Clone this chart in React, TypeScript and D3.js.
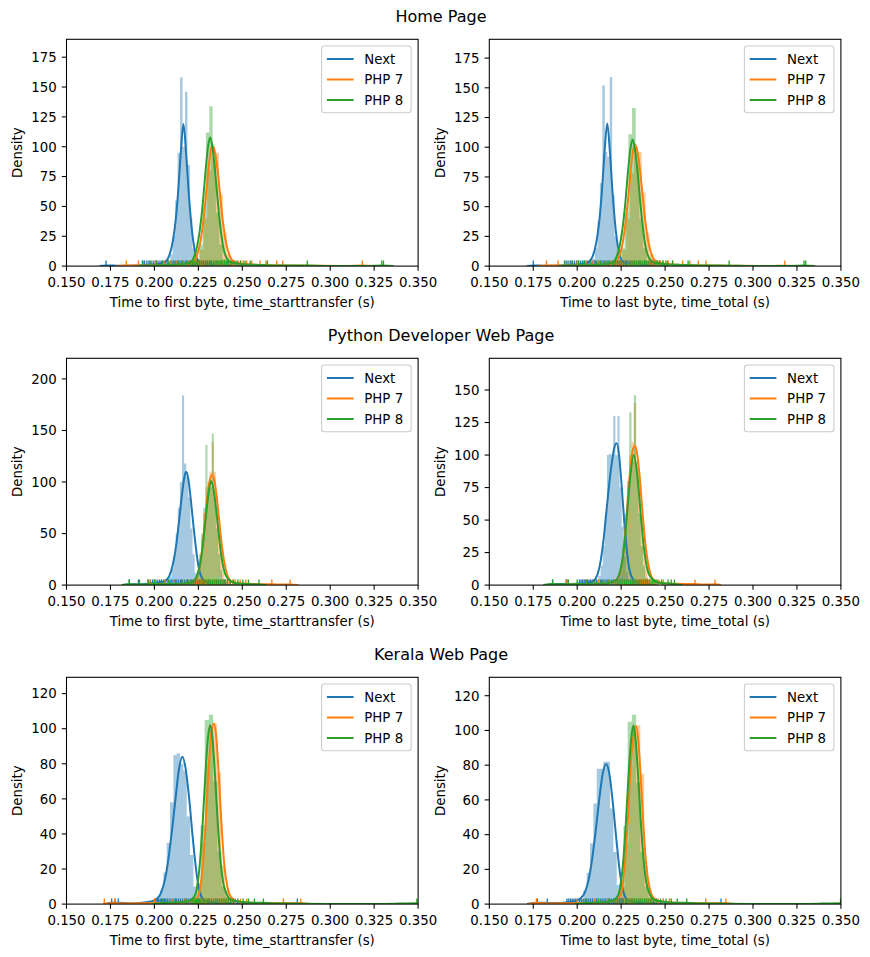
import React from "react";
import * as d3 from "d3";

// ---------- shared labels ----------
const seriesNames = ["Next", "PHP 7", "PHP 8"];
const seriesColors = ["#1f77b4", "#ff7f0e", "#2ca02c"];
const rowTitles = ["Home Page", "Python Developer Web Page", "Kerala Web Page"];
const xLabels = ["Time to first byte, time_starttransfer (s)", "Time to last byte, time_total (s)"];
const xTicks = [0.15, 0.175, 0.2, 0.225, 0.25, 0.275, 0.3, 0.325, 0.35];
const yTicksHome = [0, 25, 50, 75, 100, 125, 150, 175];
const yTicksPyFirst = [0, 50, 100, 150, 200];
const yTicksPyLast = [0, 25, 50, 75, 100, 125, 150];
const yTicksKerala = [0, 20, 40, 60, 80, 100, 120];
const yMaxes = [190, 190.8, 220, 174.4, 129.3, 130.6];

// ---------- Home page, time to first byte ----------
const hfNextHist = { start: 0.2048, width: 0.0014, density: [1, 2, 3, 10, 25, 55, 95, 158, 100, 146, 85, 40, 15, 5, 2, 1] };
const hfPhp7Hist = { start: 0.2191, width: 0.0022, density: [1, 2, 5, 14, 40, 80, 98, 95, 60, 28, 10, 3, 1] };
const hfPhp8Hist = { start: 0.2198, width: 0.0019, density: [1, 2, 6, 18, 50, 112, 134, 90, 45, 18, 6, 2] };
const hfNextKde = [[0.1688,0],[0.1725,0.6],[0.18,0.3],[0.19,0.6],[0.197,1.2],[0.203,2],[0.2065,4],[0.2085,9],[0.2105,21],[0.212,37],[0.2135,62],[0.215,95],[0.2165,119],[0.218,95],[0.2195,62],[0.221,35],[0.2225,17],[0.224,7],[0.2265,2.5],[0.232,1.5],[0.242,0.7],[0.2505,0]];
const hfPhp7Kde = [[0.1785,0],[0.184,0.6],[0.191,0.6],[0.2,0.5],[0.21,0.8],[0.217,1.3],[0.2215,3],[0.224,8],[0.226,19],[0.228,40],[0.2295,62],[0.231,85],[0.2322,98],[0.2332,101],[0.2345,95],[0.236,80],[0.2375,58],[0.239,37],[0.241,18],[0.243,8],[0.2455,3.5],[0.25,2],[0.256,1.2],[0.265,0.8],[0.275,0.5],[0.29,0.2],[0.31,0.1],[0.318,0.4],[0.324,0]];
const hfPhp8Kde = [[0.1905,0],[0.2,0.6],[0.21,1],[0.216,1.5],[0.2205,3],[0.2225,7.5],[0.2245,18],[0.226,32],[0.2275,52],[0.229,78],[0.2305,100],[0.2317,108],[0.233,100],[0.2345,80],[0.236,55],[0.2375,33],[0.239,17],[0.241,7],[0.244,2.8],[0.25,1.6],[0.26,1],[0.27,0.6],[0.287,0.4],[0.3,0.1],[0.32,0.1],[0.33,0.5],[0.336,0]];
const hfNextRug = [0.1725,0.1932,0.1944,0.1957,0.1969,0.1981,0.1993,0.2005,0.2014,0.2026,0.2038,0.2049,0.2061,0.2072,0.2083,0.2095,0.2106,0.2118,0.2129,0.214,0.2152,0.2163,0.2175,0.2186,0.2198,0.2209,0.2221,0.2232,0.2244,0.2258,0.2275,0.2295,0.232,0.235,0.238,0.2415,0.245];
const hfPhp7Rug = [0.184,0.1909,0.2005,0.2055,0.2095,0.213,0.2165,0.2195,0.2215,0.2228,0.224,0.2252,0.2264,0.2276,0.2288,0.23,0.2312,0.2324,0.2336,0.2348,0.236,0.2372,0.2384,0.2396,0.2408,0.242,0.2433,0.2447,0.246,0.2475,0.249,0.2505,0.2525,0.2554,0.2601,0.2635,0.2696,0.273,0.3183];
const hfPhp8Rug = [0.1935,0.1975,0.2012,0.2045,0.2078,0.211,0.2135,0.216,0.2185,0.2205,0.2218,0.223,0.2242,0.2254,0.2266,0.2278,0.229,0.2302,0.2314,0.2326,0.2338,0.235,0.2362,0.2374,0.2386,0.2398,0.241,0.2423,0.2437,0.2452,0.247,0.249,0.2515,0.2545,0.2643,0.287,0.3293,0.3303];

// ---------- Home page, time to last byte ----------
const hlNextHist = { start: 0.2045, width: 0.0014, density: [1, 2, 3, 6, 15, 38, 70, 152, 96, 92, 159, 60, 25, 10, 4, 2, 1] };
const hlPhp7Hist = { start: 0.2191, width: 0.0022, density: [1, 2, 5, 14, 40, 78, 100, 96, 62, 28, 10, 3, 1] };
const hlPhp8Hist = { start: 0.2186, width: 0.0021, density: [1, 2, 5, 15, 45, 111, 133, 85, 40, 15, 5, 2] };
const hlNextKde = [[0.1713,0],[0.175,0.6],[0.182,0.3],[0.19,0.5],[0.1975,1.2],[0.2035,2],[0.207,4],[0.209,9],[0.211,21],[0.2125,37],[0.214,62],[0.2155,95],[0.2171,120],[0.2186,96],[0.2201,62],[0.2216,35],[0.2231,17],[0.2246,7],[0.227,2.5],[0.233,1.5],[0.243,0.7],[0.2515,0]];
const hlPhp7Kde = [[0.1775,0],[0.1825,0.6],[0.189,0.6],[0.2,0.5],[0.21,0.8],[0.217,1.3],[0.2213,3],[0.2238,8],[0.2258,19],[0.2278,40],[0.2293,62],[0.2308,86],[0.232,99],[0.233,102],[0.2343,96],[0.2358,80],[0.2373,58],[0.2388,37],[0.2408,18],[0.2428,8],[0.2453,3.5],[0.25,2],[0.255,1.3],[0.264,0.8],[0.274,0.5],[0.29,0.2],[0.31,0.1],[0.318,0.4],[0.3235,0]];
const hlPhp8Kde = [[0.1895,0],[0.2,0.6],[0.21,1],[0.216,1.5],[0.2203,3],[0.2223,7.5],[0.2243,18],[0.2258,32],[0.2273,52],[0.2288,78],[0.2303,99],[0.2315,106.6],[0.2328,99],[0.2343,80],[0.2358,55],[0.2373,33],[0.2388,17],[0.2408,7],[0.2438,2.8],[0.25,1.6],[0.26,1],[0.27,0.6],[0.286,0.4],[0.3,0.1],[0.32,0.1],[0.329,0.5],[0.3352,0]];
const hlNextRug = [0.175,0.1937,0.1948,0.196,0.1972,0.1984,0.1996,0.2008,0.202,0.2031,0.2043,0.2055,0.2066,0.2078,0.2089,0.2101,0.2112,0.2124,0.2135,0.2147,0.2158,0.217,0.2181,0.2193,0.2204,0.2216,0.2227,0.2239,0.225,0.2264,0.228,0.23,0.2325,0.2355,0.2385,0.242,0.2455];
const hlPhp7Rug = [0.1825,0.1891,0.2,0.205,0.209,0.2125,0.216,0.2192,0.2213,0.2226,0.2238,0.225,0.2262,0.2274,0.2286,0.2298,0.231,0.2322,0.2334,0.2346,0.2358,0.237,0.2382,0.2394,0.2406,0.2418,0.2431,0.2445,0.2458,0.2473,0.2488,0.2503,0.2518,0.2543,0.26,0.2641,0.2689,0.2732,0.3181];
const hlPhp8Rug = [0.1928,0.197,0.2008,0.204,0.2074,0.2106,0.2132,0.2158,0.2182,0.2203,0.2216,0.2228,0.224,0.2252,0.2264,0.2276,0.2288,0.23,0.2312,0.2324,0.2336,0.2348,0.236,0.2372,0.2384,0.2396,0.2408,0.2421,0.2435,0.245,0.2468,0.2488,0.2512,0.2542,0.2631,0.2864,0.329,0.33];

// ---------- Python developer page, time to first byte ----------
const pfNextHist = { start: 0.2061, width: 0.0012, density: [2, 4, 8, 16, 30, 50, 75, 100, 184, 118, 105, 85, 55, 30, 12, 5, 2] };
const pfPhp7Hist = { start: 0.2218, width: 0.0012, density: [2, 5, 12, 25, 45, 70, 95, 100, 110, 139, 110, 86, 55, 30, 12, 4, 1] };
const pfPhp8Hist = { start: 0.2218, width: 0.0012, density: [3, 7, 15, 30, 50, 75, 136, 90, 95, 147, 85, 55, 30, 15, 6, 3, 1] };
const pfNextKde = [[0.1825,0],[0.1857,0.8],[0.191,0.8],[0.197,1.5],[0.202,2.5],[0.206,4],[0.2085,9],[0.2105,20],[0.2125,40],[0.214,62],[0.2155,85],[0.217,104],[0.218,110],[0.2192,104],[0.2207,83],[0.2222,58],[0.2237,35],[0.2252,17],[0.227,7],[0.2295,3],[0.233,1.5],[0.24,0.6],[0.2475,0]];
const pfPhp7Kde = [[0.1945,0],[0.198,0.8],[0.205,0.8],[0.212,1],[0.218,1.5],[0.222,3],[0.2245,9],[0.2262,22],[0.2278,45],[0.2293,72],[0.2308,95],[0.232,105],[0.233,107],[0.2342,101],[0.2357,82],[0.2372,57],[0.2387,34],[0.2405,16],[0.2425,6],[0.245,2.5],[0.25,1.5],[0.257,1],[0.265,0.8],[0.2668,0.8],[0.272,0.5],[0.2772,0.6],[0.2819,0]];
const pfPhp8Kde = [[0.1814,0],[0.1857,0.8],[0.192,0.6],[0.2,0.8],[0.21,1],[0.217,1.5],[0.2215,3],[0.224,8],[0.226,20],[0.2275,38],[0.229,62],[0.2305,85],[0.2322,101],[0.2337,92],[0.2352,72],[0.2367,48],[0.2382,27],[0.24,12],[0.2425,5],[0.246,2],[0.2503,1.2],[0.2535,1],[0.2595,0.7],[0.2635,0]];
const pfNextRug = [0.1857,0.1909,0.1965,0.1978,0.199,0.2003,0.2015,0.2028,0.204,0.2053,0.2065,0.2078,0.2089,0.21,0.2112,0.2124,0.2136,0.2148,0.216,0.2172,0.2184,0.2196,0.2208,0.222,0.2232,0.2245,0.226,0.228,0.231,0.235,0.24];
const pfPhp7Rug = [0.1965,0.1975,0.2005,0.206,0.211,0.2155,0.219,0.2212,0.2225,0.2238,0.225,0.2262,0.2274,0.2286,0.2298,0.231,0.2322,0.2334,0.2346,0.2358,0.237,0.2382,0.2394,0.2406,0.2418,0.2432,0.2446,0.246,0.2488,0.252,0.2668,0.2772];
const pfPhp8Rug = [0.1857,0.1915,0.1965,0.2,0.204,0.208,0.212,0.2155,0.219,0.221,0.2222,0.2234,0.2246,0.2258,0.227,0.2282,0.2294,0.2306,0.2318,0.233,0.2342,0.2354,0.2366,0.2378,0.239,0.2402,0.2415,0.243,0.245,0.2475,0.2503,0.2535,0.2595];

// ---------- Python developer page, time to last byte ----------
const plNextHist = { start: 0.2097, width: 0.0012, density: [2, 4, 7, 15, 30, 55, 100, 101, 100, 130, 100, 130, 75, 45, 22, 10, 4, 2] };
const plPhp7Hist = { start: 0.2218, width: 0.0013, density: [2, 5, 12, 25, 45, 75, 100, 110, 140, 95, 86, 50, 28, 12, 5, 2] };
const plPhp8Hist = { start: 0.2218, width: 0.0013, density: [3, 7, 15, 30, 55, 80, 133, 95, 146, 85, 55, 30, 15, 6, 3, 1] };
const plNextKde = [[0.1825,0],[0.186,0.8],[0.1937,0.8],[0.2,1],[0.205,1.5],[0.209,3],[0.2115,8],[0.2135,20],[0.215,35],[0.2165,55],[0.218,75],[0.2195,92],[0.221,105],[0.2224,109],[0.2238,100],[0.2252,78],[0.2267,50],[0.2282,27],[0.2297,12],[0.2315,5],[0.234,2],[0.238,1],[0.2445,0]];
const plPhp7Kde = [[0.1925,0],[0.196,0.7],[0.205,0.8],[0.212,1],[0.218,1.5],[0.2215,3],[0.2243,9],[0.226,22],[0.2276,45],[0.2291,72],[0.2306,95],[0.2318,105],[0.2329,107],[0.2341,101],[0.2356,82],[0.2371,57],[0.2386,34],[0.2404,16],[0.2424,6],[0.245,2.5],[0.25,1.5],[0.257,1],[0.2665,0.8],[0.272,0.5],[0.2784,0.6],[0.2818,0]];
const plPhp8Kde = [[0.1807,0],[0.186,0.8],[0.192,0.6],[0.2,0.8],[0.21,1],[0.217,1.5],[0.2213,3],[0.2238,8],[0.2258,20],[0.2273,38],[0.2288,62],[0.2303,85],[0.2321,100],[0.2336,91],[0.2351,71],[0.2366,47],[0.2381,27],[0.2399,12],[0.2424,5],[0.2458,2],[0.2517,1.2],[0.2553,0.9],[0.26,0]];
const plNextRug = [0.186,0.1937,0.1942,0.2013,0.2022,0.2031,0.204,0.2049,0.2058,0.2067,0.2076,0.2087,0.2098,0.211,0.2122,0.2134,0.2146,0.2158,0.217,0.2182,0.2194,0.2206,0.2218,0.223,0.2242,0.2254,0.2266,0.2278,0.229,0.2305,0.232,0.236,0.24];
const plPhp7Rug = [0.1937,0.1942,0.205,0.212,0.218,0.2215,0.2228,0.224,0.2252,0.2264,0.2276,0.2288,0.23,0.2312,0.2324,0.2336,0.2348,0.236,0.2372,0.2384,0.2396,0.2408,0.242,0.2434,0.2448,0.2465,0.249,0.267,0.2784];
const plPhp8Rug = [0.186,0.195,0.2,0.205,0.21,0.214,0.2175,0.2205,0.222,0.2232,0.2244,0.2256,0.2268,0.228,0.2292,0.2304,0.2316,0.2328,0.234,0.2352,0.2364,0.2376,0.2388,0.24,0.2413,0.2427,0.2442,0.2455,0.248,0.2517,0.2535,0.2553];

// ---------- Kerala page, time to first byte ----------
const kfNextHist = { start: 0.2013, width: 0.0019, density: [3, 8, 18, 35, 58, 85, 86, 80, 76, 50, 28, 10, 3, 1] };
const kfPhp7Hist = { start: 0.2203, width: 0.0022, density: [1, 3, 10, 35, 80, 100, 103, 75, 22, 8, 3, 1] };
const kfPhp8Hist = { start: 0.219, width: 0.0024, density: [1, 3, 12, 45, 105, 108, 70, 30, 10, 4, 2] };
const kfNextKde = [[0.172,0],[0.1757,0.8],[0.1795,0.8],[0.186,0.4],[0.193,0.8],[0.198,1.5],[0.2015,3],[0.204,7],[0.206,14],[0.208,26],[0.21,42],[0.212,60],[0.214,77],[0.2159,84],[0.2178,77],[0.2198,60],[0.2218,38],[0.2238,19],[0.2258,7],[0.228,2.5],[0.232,1],[0.24,0.5],[0.26,0.2],[0.2813,0.4],[0.2855,0]];
const kfPhp7Kde = [[0.1709,0],[0.175,0.5],[0.185,0.4],[0.195,0.5],[0.205,0.6],[0.213,0.8],[0.22,1.5],[0.2245,4],[0.2265,12],[0.228,28],[0.2295,52],[0.231,80],[0.2325,98],[0.2339,103],[0.2352,95],[0.2367,72],[0.2382,45],[0.2397,23],[0.2415,10],[0.2435,4],[0.246,2],[0.25,1.2],[0.26,0.6],[0.2734,0.5],[0.2833,0.5],[0.289,0]];
const kfPhp8Kde = [[0.1985,0],[0.205,0.6],[0.213,1],[0.219,1.5],[0.2225,4],[0.2245,11],[0.226,25],[0.2275,47],[0.229,74],[0.2305,95],[0.2317,102],[0.233,95],[0.2345,73],[0.236,47],[0.2375,26],[0.239,13],[0.241,6],[0.2435,2.5],[0.248,1.5],[0.2569,0.8],[0.262,0.8],[0.27,0.3],[0.3,0.1],[0.33,0.1],[0.3493,0.5],[0.356,0]];
const kfNextRug = [0.1757,0.1776,0.1795,0.2008,0.2016,0.2024,0.2033,0.2041,0.205,0.2058,0.2066,0.2076,0.2088,0.21,0.2112,0.2124,0.2136,0.2148,0.216,0.2172,0.2184,0.2196,0.2208,0.222,0.2232,0.2244,0.2258,0.228,0.231,0.235,0.2813];
const kfPhp7Rug = [0.1715,0.1775,0.2,0.21,0.2175,0.2215,0.2228,0.224,0.2252,0.2264,0.2276,0.2288,0.23,0.2312,0.2324,0.2336,0.2348,0.236,0.2372,0.2384,0.2396,0.2408,0.242,0.2434,0.2448,0.246,0.249,0.2525,0.2734,0.2833];
const kfPhp8Rug = [0.205,0.212,0.218,0.2215,0.2228,0.224,0.2252,0.2264,0.2276,0.2288,0.23,0.2312,0.2324,0.2336,0.2348,0.236,0.2372,0.2384,0.2396,0.2408,0.242,0.2433,0.245,0.2475,0.2505,0.2535,0.2569,0.262,0.3493];

// ---------- Kerala page, time to last byte ----------
const klNextHist = { start: 0.2016, width: 0.0019, density: [3, 8, 18, 35, 58, 78, 78, 82, 82, 55, 30, 11, 4, 1] };
const klPhp7Hist = { start: 0.2205, width: 0.0022, density: [1, 3, 10, 35, 80, 100, 103, 75, 22, 8, 3, 1] };
const klPhp8Hist = { start: 0.2191, width: 0.0024, density: [1, 3, 12, 45, 105, 109, 70, 30, 10, 4, 2] };
const klNextKde = [[0.1715,0],[0.1773,0.8],[0.183,0.7],[0.189,0.6],[0.194,1],[0.198,1.5],[0.2015,3],[0.2045,7],[0.2065,14],[0.2085,26],[0.2105,42],[0.2125,60],[0.2145,75],[0.2164,80.7],[0.2183,75],[0.2203,58],[0.2223,37],[0.2243,18],[0.2263,7],[0.2285,2.5],[0.233,1],[0.245,0.5],[0.265,0.2],[0.2818,0.4],[0.286,0]];
const klPhp7Kde = [[0.1722,0],[0.1768,0.6],[0.185,0.4],[0.195,0.5],[0.205,0.6],[0.213,0.8],[0.2195,1.5],[0.224,4],[0.226,12],[0.2275,28],[0.229,52],[0.2305,80],[0.232,97],[0.2334,102.5],[0.2347,95],[0.2362,72],[0.2377,45],[0.2392,23],[0.241,10],[0.243,4],[0.2455,2],[0.25,1.2],[0.26,0.6],[0.2731,0.5],[0.2846,0.5],[0.29,0]];
const klPhp8Kde = [[0.1985,0],[0.205,0.6],[0.213,1],[0.219,1.5],[0.2227,4],[0.2247,11],[0.2262,25],[0.2277,47],[0.2292,74],[0.2307,95],[0.2319,103],[0.2332,95],[0.2347,73],[0.2362,47],[0.2377,26],[0.2392,13],[0.2412,6],[0.2437,2.5],[0.248,1.5],[0.2569,0.8],[0.2623,0.8],[0.27,0.3],[0.3,0.1],[0.33,0.1],[0.35,0.5],[0.357,0]];
const klNextRug = [0.1773,0.183,0.1942,0.1952,0.1962,0.1972,0.1982,0.1992,0.2002,0.2014,0.2026,0.2038,0.205,0.2062,0.2074,0.2086,0.2098,0.211,0.2122,0.2134,0.2146,0.2158,0.217,0.2182,0.2194,0.2206,0.2218,0.223,0.2244,0.226,0.228,0.231,0.235,0.2818];
const klPhp7Rug = [0.1768,0.2,0.21,0.2175,0.2215,0.2228,0.224,0.2252,0.2264,0.2276,0.2288,0.23,0.2312,0.2324,0.2336,0.2348,0.236,0.2372,0.2384,0.2396,0.2408,0.242,0.2434,0.2448,0.246,0.249,0.2525,0.2731,0.2846];
const klPhp8Rug = [0.205,0.212,0.218,0.2215,0.2228,0.224,0.2252,0.2264,0.2276,0.2288,0.23,0.2312,0.2324,0.2336,0.2348,0.236,0.2372,0.2384,0.2396,0.2408,0.242,0.2433,0.245,0.2475,0.2505,0.2535,0.2569,0.2623,0.3498];

// ---------- panel assembly ----------
const panels = [
  { row: 0, col: 0, yMax: yMaxes[0], yTicks: yTicksHome, hists: [hfNextHist, hfPhp7Hist, hfPhp8Hist], kdes: [hfNextKde, hfPhp7Kde, hfPhp8Kde], rugs: [hfNextRug, hfPhp7Rug, hfPhp8Rug] },
  { row: 0, col: 1, yMax: yMaxes[1], yTicks: yTicksHome, hists: [hlNextHist, hlPhp7Hist, hlPhp8Hist], kdes: [hlNextKde, hlPhp7Kde, hlPhp8Kde], rugs: [hlNextRug, hlPhp7Rug, hlPhp8Rug] },
  { row: 1, col: 0, yMax: yMaxes[2], yTicks: yTicksPyFirst, hists: [pfNextHist, pfPhp7Hist, pfPhp8Hist], kdes: [pfNextKde, pfPhp7Kde, pfPhp8Kde], rugs: [pfNextRug, pfPhp7Rug, pfPhp8Rug] },
  { row: 1, col: 1, yMax: yMaxes[3], yTicks: yTicksPyLast, hists: [plNextHist, plPhp7Hist, plPhp8Hist], kdes: [plNextKde, plPhp7Kde, plPhp8Kde], rugs: [plNextRug, plPhp7Rug, plPhp8Rug] },
  { row: 2, col: 0, yMax: yMaxes[4], yTicks: yTicksKerala, hists: [kfNextHist, kfPhp7Hist, kfPhp8Hist], kdes: [kfNextKde, kfPhp7Kde, kfPhp8Kde], rugs: [kfNextRug, kfPhp7Rug, kfPhp8Rug] },
  { row: 2, col: 1, yMax: yMaxes[5], yTicks: yTicksKerala, hists: [klNextHist, klPhp7Hist, klPhp8Hist], kdes: [klNextKde, klPhp7Kde, klPhp8Kde], rugs: [klNextRug, klPhp7Rug, klPhp8Rug] },
];

// ---------- layout ----------
const W = 870;
const H = 957;
const AX_LEFT = [66.5, 489.3];
const AX_W = 351.6;
const AX_TOP = [39.3, 358.3, 677.3];
const AX_H = 226.8;
const FONT = "'DejaVu Sans', 'Liberation Sans', sans-serif";
const FS = 13.33;

function Panel({ p, idx }: { p: any; idx: number }) {
  const x0 = AX_LEFT[p.col];
  const y0 = AX_TOP[p.row];
  const xs = d3.scaleLinear().domain([0.15, 0.35]).range([x0, x0 + AX_W]);
  const ys = d3.scaleLinear().domain([0, p.yMax]).range([y0 + AX_H, y0]);
  const clipId = `clip-${idx}`;

  const histArea = d3
    .area<[number, number]>()
    .x((d) => xs(d[0]))
    .y0(ys(0))
    .y1((d) => ys(d[1]))
    .curve(d3.curveStepAfter);

  const kdeLine = d3
    .line<number[]>()
    .x((d) => xs(d[0]))
    .y((d) => ys(d[1]))
    .curve(d3.curveMonotoneX);

  const histPoints = (h: any): [number, number][] => {
    const pts: [number, number][] = h.density.map((v: number, i: number) => [h.start + i * h.width, v]);
    const n = h.density.length;
    pts.push([h.start + n * h.width, h.density[n - 1]]);
    return pts;
  };

  const rugH = AX_H * 0.025;
  const legendW = 89.5;
  const legendH = 66.7;
  const lx = x0 + AX_W - 7 - legendW;
  const ly = y0 + 6.7;

  return (
    <g>
      <defs>
        <clipPath id={clipId}>
          <rect x={x0} y={y0} width={AX_W} height={AX_H} />
        </clipPath>
      </defs>
      <g clipPath={`url(#${clipId})`}>
        {p.hists.map((h: any, i: number) => (
          <path key={`h${i}`} d={histArea(histPoints(h)) || ""} fill={seriesColors[i]} fillOpacity={0.4} stroke="none" />
        ))}
        {p.kdes.map((k: number[][], i: number) => (
          <g key={`k${i}`}>
            <path d={kdeLine(k) || ""} fill="none" stroke={seriesColors[i]} strokeWidth={2} strokeLinejoin="round" />
            {p.rugs[i].map((r: number, j: number) => (
              <line key={j} x1={xs(r)} x2={xs(r)} y1={y0 + AX_H} y2={y0 + AX_H - rugH} stroke={seriesColors[i]} strokeWidth={1.33} />
            ))}
          </g>
        ))}
      </g>
      {/* spines */}
      <rect x={x0} y={y0} width={AX_W} height={AX_H} fill="none" stroke="#000" strokeWidth={1.07} />
      {/* x ticks */}
      {xTicks.map((t) => (
        <g key={`xt${t}`}>
          <line x1={xs(t)} x2={xs(t)} y1={y0 + AX_H} y2={y0 + AX_H + 4.67} stroke="#000" strokeWidth={1.07} />
          <text x={xs(t)} y={y0 + AX_H + 21} textAnchor="middle" fontSize={FS} fontFamily={FONT} fill="#000">
            {d3.format(".3f")(t)}
          </text>
        </g>
      ))}
      {/* y ticks */}
      {p.yTicks.map((t: number) => (
        <g key={`yt${t}`}>
          <line x1={x0} x2={x0 - 4.67} y1={ys(t)} y2={ys(t)} stroke="#000" strokeWidth={1.07} />
          <text x={x0 - 9.8} y={ys(t) + 4.8} textAnchor="end" fontSize={FS} fontFamily={FONT} fill="#000">
            {t}
          </text>
        </g>
      ))}
      {/* axis labels */}
      <text x={x0 + AX_W / 2} y={y0 + AX_H + 40.6} textAnchor="middle" fontSize={FS} fontFamily={FONT} fill="#000">
        {xLabels[p.col]}
      </text>
      <text
        transform={`translate(${x0 - 44.5},${y0 + AX_H / 2}) rotate(-90)`}
        textAnchor="middle"
        fontSize={FS}
        fontFamily={FONT}
        fill="#000"
      >
        Density
      </text>
      {/* legend */}
      <rect x={lx} y={ly} width={legendW} height={legendH} rx={2.7} fill="#fff" fillOpacity={0.8} stroke="#cccccc" strokeWidth={1.07} />
      {seriesNames.map((s, i) => {
        const cy = ly + 13 + i * 20.5;
        return (
          <g key={`lg${i}`}>
            <line x1={lx + 5.3} x2={lx + 32} y1={cy} y2={cy} stroke={seriesColors[i]} strokeWidth={2} />
            <text x={lx + 42.7} y={cy + 4.8} fontSize={FS} fontFamily={FONT} fill="#000">
              {s}
            </text>
          </g>
        );
      })}
    </g>
  );
}

export default function App() {
  return (
    <svg
      width={W}
      height={H}
      viewBox={`0 0 ${W} ${H}`}
      style={{ position: "absolute", left: 0, top: 0, background: "#fff" }}
    >
      <rect x={0} y={0} width={W} height={H} fill="#fff" />
      {rowTitles.map((t, r) => (
        <text key={t} x={441} y={AX_TOP[r] - 17.6} textAnchor="middle" fontSize={16} fontFamily={FONT} fill="#000">
          {t}
        </text>
      ))}
      {panels.map((p, i) => (
        <Panel key={i} p={p} idx={i} />
      ))}
    </svg>
  );
}
